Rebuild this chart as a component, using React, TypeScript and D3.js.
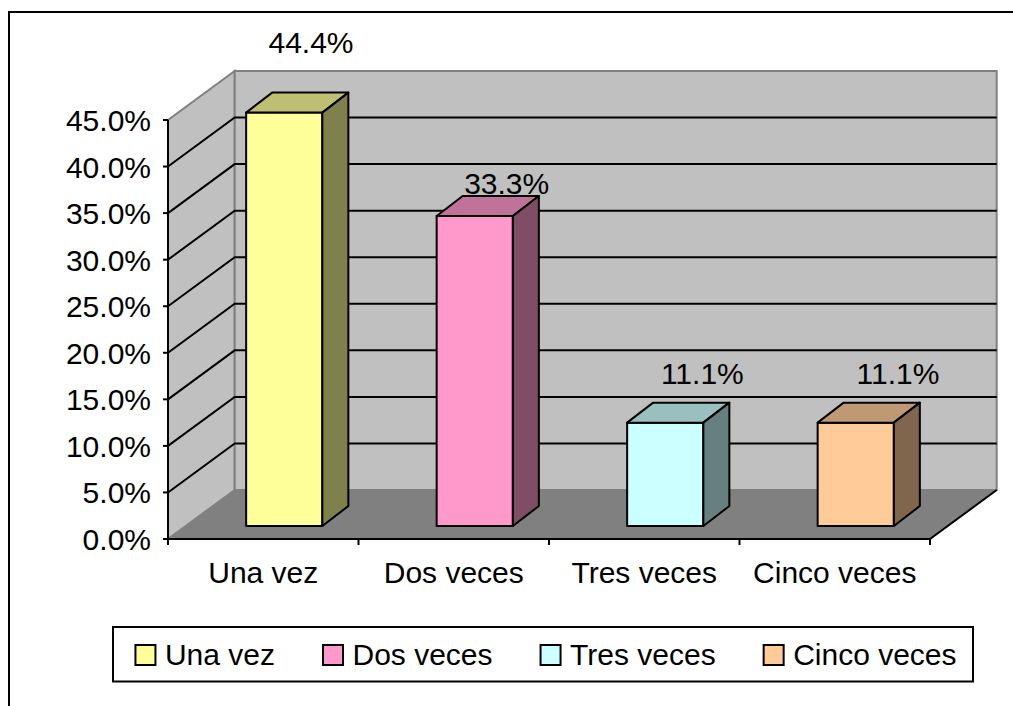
import React from "react";
import * as d3 from "d3";

const categories = ["Una vez", "Dos veces", "Tres veces", "Cinco veces"];
const values = [44.4, 33.3, 11.1, 11.1];
const valueLabels = ["44.4%", "33.3%", "11.1%", "11.1%"];
const tickValues = [0, 5, 10, 15, 20, 25, 30, 35, 40, 45];
const frontColors = ["#FFFF99", "#FF99CC", "#CCFFFF", "#FFCC99"];

const W = 1013;
const H = 706;
const FONT = "'Liberation Sans', Arial, sans-serif";
const FS = 30;

// geometry
const X0 = 168;
const X1 = 930;
const DEPTH_X = 66.7;
const DEPTH_Y = -49;
const BAR_OFF_X = 21;
const BAR_OFF_Y = -13;
const BAR_DX = 26;
const BAR_DY = -20;

const yFront = d3.scaleLinear().domain([0, 45]).range([539, 120]);
const yBack = (v: number) => yFront(v) + DEPTH_Y;
const xBand = d3
  .scaleBand<string>()
  .domain(categories)
  .range([X0, X1])
  .paddingInner(0)
  .paddingOuter(0);
const barW = xBand.bandwidth() / 2.5;

// label projection (Excel 3D label placement)
const labelX = d3.scaleLinear().domain([0, categories.length - 1]).range([311, 898]);
const labelY = d3.scaleLinear().domain([11.1, 33.3, 44.4]).range([384, 194, 53]);

function shade(c: string, k: number) {
  const r = d3.rgb(c);
  return d3.rgb(r.r * k, r.g * k, r.b * k).formatHex();
}

let ctx: CanvasRenderingContext2D | null = null;
function measure(t: string) {
  if (!ctx && typeof document !== "undefined") {
    ctx = document.createElement("canvas").getContext("2d");
  }
  if (ctx) {
    ctx.font = `${FS}px ${FONT}`;
    return ctx.measureText(t).width;
  }
  return t.length * FS * 0.5;
}

export default function App() {
  const wallRight = X0 + DEPTH_X + (X1 - X0);
  const backLeft = X0 + DEPTH_X;
  const gridVals = tickValues.filter((v) => v > 0 && v < 45);

  // legend layout
  const legItems: { x: number; tx: number; w: number }[] = [];
  let cx = 0;
  categories.forEach((c, i) => {
    const w = measure(c);
    legItems.push({ x: cx, tx: cx + 29.5, w });
    cx += 29.5 + w + (i < categories.length - 1 ? 48 : 0);
  });
  const legBoxL = 113;
  const legBoxR = 973;
  const legStart = (legBoxL + legBoxR) / 2 - cx / 2 + 3;

  return (
    <svg
      width={W}
      height={H}
      style={{ position: "absolute", left: 0, top: 0, background: "#fff" }}
      fontFamily={FONT}
    >
      <rect x={0} y={0} width={W} height={H} fill="#fff" />
      <rect x={9} y={12} width={W + 20} height={H + 20} fill="#fff" stroke="#000" strokeWidth={2} />

      {/* left wall */}
      <polygon
        points={`${X0},${yFront(45)} ${backLeft},${yBack(45)} ${backLeft},${yBack(0)} ${X0},${yFront(0)}`}
        fill="#C0C0C0"
        stroke="#808080"
        strokeWidth={2}
      />
      {/* back wall */}
      <rect
        x={backLeft}
        y={yBack(45)}
        width={wallRight - backLeft}
        height={yBack(0) - yBack(45)}
        fill="#C0C0C0"
        stroke="#808080"
        strokeWidth={2}
      />
      {/* floor */}
      <polygon
        points={`${X0},${yFront(0)} ${backLeft},${yBack(0)} ${wallRight},${yBack(0)} ${X1},${yFront(0)}`}
        fill="#808080"
        stroke="#808080"
        strokeWidth={1}
      />
      <line x1={X1} y1={yFront(0)} x2={wallRight} y2={yBack(0)} stroke="#000" strokeWidth={2} />

      {/* gridlines */}
      {gridVals.map((v) => (
        <polyline
          key={v}
          points={`${X0},${yFront(v)} ${backLeft},${yBack(v)} ${wallRight},${yBack(v)}`}
          fill="none"
          stroke="#000"
          strokeWidth={2}
        />
      ))}

      {/* y axis */}
      <line x1={X0} y1={yFront(45)} x2={X0} y2={yFront(0)} stroke="#000" strokeWidth={2} />
      {tickValues.map((v) => (
        <g key={v}>
          <line x1={X0 - 5} y1={yFront(v)} x2={X0} y2={yFront(v)} stroke="#000" strokeWidth={2} />
          <text x={151} y={yFront(v) + 11} textAnchor="end" fontSize={FS} fill="#000">
            {d3.format(".1f")(v) + "%"}
          </text>
        </g>
      ))}

      {/* x axis */}
      <line x1={X0} y1={yFront(0)} x2={X1} y2={yFront(0)} stroke="#000" strokeWidth={2} />
      {[...categories.map((c) => xBand(c)!), X1].map((x, i) => (
        <line key={i} x1={x} y1={yFront(0)} x2={x} y2={yFront(0) + 6} stroke="#000" strokeWidth={2} />
      ))}
      {categories.map((c) => (
        <text
          key={c}
          x={xBand(c)! + xBand.bandwidth() / 2}
          y={583}
          textAnchor="middle"
          fontSize={FS}
          fill="#000"
        >
          {c}
        </text>
      ))}

      {/* bars */}
      {categories.map((c, i) => {
        const v = values[i];
        const xl = xBand(c)! + xBand.bandwidth() / 2 - barW / 2 + BAR_OFF_X;
        const xr = xl + barW;
        const yb = yFront(0) + BAR_OFF_Y;
        const yt = yFront(v) + BAR_OFF_Y;
        const col = frontColors[i];
        return (
          <g key={c} stroke="#000" strokeWidth={2} strokeLinejoin="round">
            <rect x={xl} y={yt} width={barW} height={yb - yt} fill={col} />
            <polygon
              points={`${xl},${yt} ${xl + BAR_DX},${yt + BAR_DY} ${xr + BAR_DX},${yt + BAR_DY} ${xr},${yt}`}
              fill={shade(col, 0.75)}
            />
            <polygon
              points={`${xr},${yt} ${xr + BAR_DX},${yt + BAR_DY} ${xr + BAR_DX},${yb + BAR_DY} ${xr},${yb}`}
              fill={shade(col, 0.5)}
            />
          </g>
        );
      })}

      {/* value labels */}
      {values.map((v, i) => (
        <text key={i} x={labelX(i)} y={labelY(v)} textAnchor="middle" fontSize={FS} fill="#000">
          {valueLabels[i]}
        </text>
      ))}

      {/* legend */}
      <rect
        x={legBoxL}
        y={627}
        width={legBoxR - legBoxL}
        height={54.5}
        fill="#fff"
        stroke="#000"
        strokeWidth={2}
      />
      {categories.map((c, i) => (
        <g key={c}>
          <rect
            x={legStart + legItems[i].x}
            y={645}
            width={20}
            height={20}
            fill={frontColors[i]}
            stroke="#000"
            strokeWidth={2}
          />
          <text x={legStart + legItems[i].tx} y={665} fontSize={FS} fill="#000">
            {c}
          </text>
        </g>
      ))}
    </svg>
  );
}
